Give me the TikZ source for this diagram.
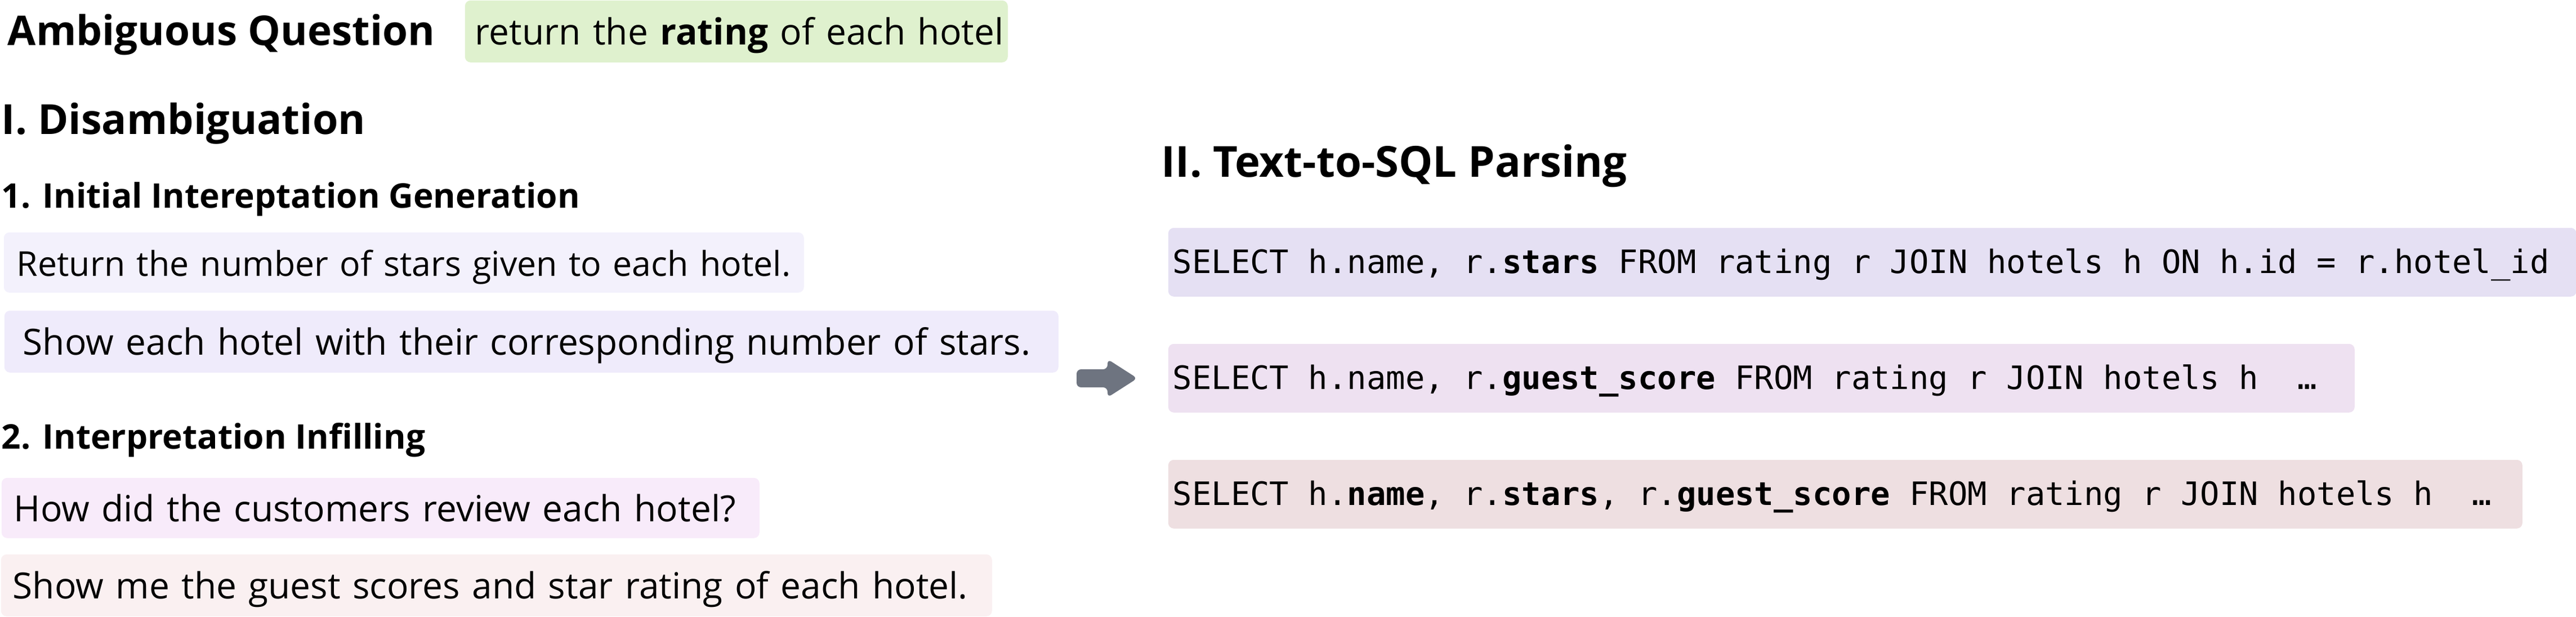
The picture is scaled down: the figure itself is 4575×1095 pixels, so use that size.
\documentclass[tikz,border=0pt]{standalone}
\usepackage{fontspec}
\setmainfont{Open Sans}
\setmonofont{DejaVu Sans Mono}

\definecolor{qgreen}{HTML}{DFF1CE}
\definecolor{genA}{HTML}{F3F1FC}
\definecolor{genB}{HTML}{EFEBFB}
\definecolor{infA}{HTML}{F8EBFA}
\definecolor{infB}{HTML}{FAF0F1}
\definecolor{sqlA}{HTML}{E5E0F3}
\definecolor{sqlB}{HTML}{EEE1F1}
\definecolor{sqlC}{HTML}{EEDFE1}
\definecolor{arrowgray}{HTML}{6E7480}

\tikzset{
  heading/.style={anchor=base west, inner sep=0pt, font=\bfseries\fontsize{18.4}{20}\selectfont},
  subheading/.style={heading, font=\bfseries\fontsize{15.1}{18}\selectfont},
  nlbox/.style={anchor=north west, rounded corners=2.5pt, inner ysep=0pt, inner xsep=5.5pt,
    minimum height=27.5pt, text height=12pt, text depth=0pt, align=left,
    font=\fontsize{16}{18}\selectfont,
    execute at begin node={\leavevmode\hbox\bgroup}, execute at end node={\egroup}},
  sqlbox/.style={anchor=north west, rounded corners=2.5pt, inner ysep=0pt, inner xsep=2pt,
    minimum height=30.5pt, text height=10pt, text depth=0pt, align=left,
    font=\ttfamily\fontsize{14.3}{16}\selectfont,
    execute at begin node={\spaceskip=0.6021em\relax\leavevmode\hbox\bgroup},
    execute at end node={\egroup}}
}

\begin{document}
\begin{tikzpicture}[x=0.25pt,y=-0.25pt]
    \useasboundingbox (0,0) rectangle (4575,1095);
    % question
    \node[heading, font=\bfseries\fontsize{18.2}{20}\selectfont] (amb) at (13,80) {Ambiguous Question};
    \node[nlbox, fill=qgreen, inner xsep=4.5pt, text width=232pt] (question) at (825,0)
        {return the \textbf{rating} of each hotel};
    % I. disambiguation
    \node[heading] (dis) at (2,238) {I. Disambiguation};
    \node[subheading] (gen) at (2,369) {1. Initial Intereptation Generation};
    \node[nlbox, fill=genA, font=\fontsize{15.2}{18}\selectfont, inner xsep=5.75pt,
        minimum height=26.75pt, text width=343.75pt] (int1) at (6,412)
        {Return the number of stars given to each hotel.};
    \node[nlbox, fill=genB, inner xsep=8.25pt, text width=451.5pt] (int2) at (7,551)
        {Show each hotel with their corresponding number of stars.};
    \node[subheading] (inf) at (2,797) {2. Interpretation Infilling};
    \node[nlbox, fill=infA, minimum height=26.75pt, text width=325.5pt] (int3) at (2,848)
        {How did the customers review each hotel?};
    \node[nlbox, fill=infB, inner xsep=5.25pt, text width=429.5pt] (int4) at (1,984)
        {Show me the guest scores and star rating of each hotel.};
    % II. text-to-sql
    \coordinate (arrowtail) at (1912,672);
    \fill[arrowgray, rounded corners=2pt] (arrowtail) ++(0,-16) -- ++(55,0) -- ++(0,-18)
        -- ++(53,34) -- ++(-53,34) -- ++(0,-18) -- ++(-55,0) -- cycle;
    \node[heading, font=\bfseries\fontsize{19}{20}\selectfont] (sqlhead) at (2062,314) {II. Text-to-SQL Parsing};
    \node[sqlbox, fill=sqlA, text width=621.25pt] (sql1) at (2074,404)
        {SELECT h.name, r.\textbf{stars} FROM rating r JOIN hotels h ON h.id = r.hotel\_id};
    \node[sqlbox, fill=sqlB, text width=522.75pt] (sql2) at (2074,610)
        {SELECT h.name, r.\textbf{guest\_score} FROM rating r JOIN hotels h~~…};
    \node[sqlbox, fill=sqlC, text width=597.25pt] (sql3) at (2074,816)
        {SELECT h.\textbf{name}, r.\textbf{stars}, r.\textbf{guest\_score} FROM rating r JOIN hotels h~~…};
\end{tikzpicture}
\end{document}
